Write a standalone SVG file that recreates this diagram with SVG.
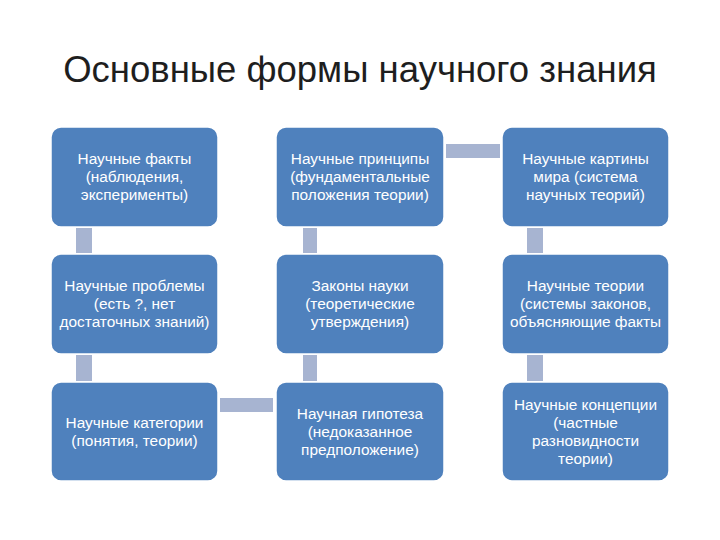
<svg xmlns="http://www.w3.org/2000/svg" width="720" height="540" viewBox="0 0 720 540">
<style>
.title{font-family:"Liberation Sans",Arial,sans-serif;font-size:36.5px;fill:#1E1E1E;text-anchor:middle}
.box{fill:#4F81BD;stroke:#FFFFFF;stroke-width:1.5}
.lbl{font-family:"Liberation Sans",Arial,sans-serif;font-size:15.4px;fill:#FFFFFF;text-anchor:middle}
.con{fill:#A7B4D1}
</style>
<rect width="720" height="540" fill="#FFFFFF"/>
<text class="title" x="360" y="82">Основные формы научного знания</text>
<g id="connectors">
<rect class="con" x="76" y="228" width="16" height="25"/>
<rect class="con" x="76" y="355" width="16" height="26"/>
<rect class="con" x="303" y="228" width="14" height="25"/>
<rect class="con" x="303" y="355" width="14" height="26"/>
<rect class="con" x="527" y="228" width="16" height="25"/>
<rect class="con" x="527" y="355" width="16" height="26"/>
<rect class="con" x="446" y="144" width="54" height="14"/>
<rect class="con" x="220" y="398" width="53" height="14"/>
</g>
<g id="n1"><rect class="box" x="51" y="127" width="167" height="100" rx="10"/>
<text class="lbl" x="134.5"><tspan x="134.5" y="164">Научные факты</tspan><tspan x="134.5" y="182">(наблюдения,</tspan><tspan x="134.5" y="200">эксперименты)</tspan></text></g>
<g id="n2"><rect class="box" x="276" y="127" width="168" height="100" rx="10"/>
<text class="lbl" x="360"><tspan x="360" y="164">Научные принципы</tspan><tspan x="360" y="182">(фундаментальные</tspan><tspan x="360" y="200">положения теории)</tspan></text></g>
<g id="n3"><rect class="box" x="502" y="127" width="167" height="100" rx="10"/>
<text class="lbl" x="585.5"><tspan x="585.5" y="164">Научные картины</tspan><tspan x="585.5" y="182">мира (система</tspan><tspan x="585.5" y="200">научных теорий)</tspan></text></g>
<g id="n4"><rect class="box" x="51" y="254" width="167" height="100" rx="10"/>
<text class="lbl" x="134.5"><tspan x="134.5" y="291">Научные проблемы</tspan><tspan x="134.5" y="309">(есть ?, нет</tspan><tspan x="134.5" y="327">достаточных знаний)</tspan></text></g>
<g id="n5"><rect class="box" x="276" y="254" width="168" height="100" rx="10"/>
<text class="lbl" x="360"><tspan x="360" y="291">Законы науки</tspan><tspan x="360" y="309">(теоретические</tspan><tspan x="360" y="327">утверждения)</tspan></text></g>
<g id="n6"><rect class="box" x="502" y="254" width="167" height="100" rx="10"/>
<text class="lbl" x="585.5"><tspan x="585.5" y="291">Научные теории</tspan><tspan x="585.5" y="309">(системы законов,</tspan><tspan x="585.5" y="327">объясняющие факты</tspan></text></g>
<g id="n7"><rect class="box" x="51" y="382" width="167" height="99" rx="10"/>
<text class="lbl" x="134.5"><tspan x="134.5" y="428">Научные категории</tspan><tspan x="134.5" y="446">(понятия, теории)</tspan></text></g>
<g id="n8"><rect class="box" x="276" y="382" width="168" height="99" rx="10"/>
<text class="lbl" x="360"><tspan x="360" y="419">Научная гипотеза</tspan><tspan x="360" y="437">(недоказанное</tspan><tspan x="360" y="455">предположение)</tspan></text></g>
<g id="n9"><rect class="box" x="502" y="382" width="167" height="99" rx="10"/>
<text class="lbl" x="585.5"><tspan x="585.5" y="410">Научные концепции</tspan><tspan x="585.5" y="428">(частные</tspan><tspan x="585.5" y="446">разновидности</tspan><tspan x="585.5" y="464">теории)</tspan></text></g>
</svg>
